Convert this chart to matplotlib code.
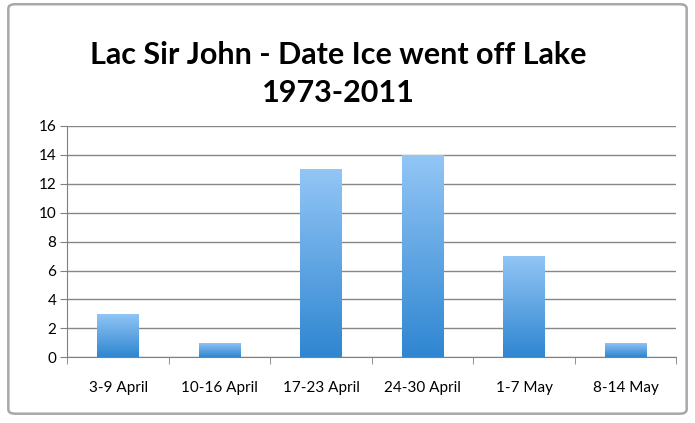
import matplotlib.pyplot as plt
import numpy as np
from matplotlib.colors import LinearSegmentedColormap
from matplotlib.patches import FancyBboxPatch

# data
categories = ['3-9 April', '10-16 April', '17-23 April', '24-30 April', '1-7 May', '8-14 May']
counts = [3, 1, 13, 14, 7, 1]
title = 'Lac Sir John - Date Ice went off Lake\n1973-2011'

plt.rcParams['font.family'] = ['Lato', 'DejaVu Sans']

fig = plt.figure(figsize=(6.95, 4.23), dpi=100)

# outer frame of the chart
frame = FancyBboxPatch((0.012, 0.022), 0.976, 0.968, boxstyle='round,pad=0,rounding_size=0.01',
                       transform=fig.transFigure, facecolor='none', edgecolor='#a8a8a8',
                       linewidth=1.8, zorder=0)
fig.patches.append(frame)

ax = fig.add_axes([0.097, 0.155, 0.876, 0.548])
ax.set_zorder(2)
ax.patch.set_alpha(0)

x = np.arange(len(categories))
bars = ax.bar(x, counts, width=0.41, color='none', edgecolor='none', zorder=3)

# gradient fill for each bar (light on top, darker at the bottom)
cmap = LinearSegmentedColormap.from_list('excel_blue', ['#2f86d1', '#93c6f6'])
grad = np.linspace(0, 1, 256).reshape(-1, 1)
for b in bars:
    x0, y0 = b.get_x(), b.get_y()
    w, h = b.get_width(), b.get_height()
    im = ax.imshow(grad, cmap=cmap, origin='lower', aspect='auto',
                   extent=[x0, x0 + w, y0, y0 + h], zorder=3)
    im.set_clip_path(b)

ax.set_xlim(-0.5, len(categories) - 0.5)
ax.set_ylim(0, 16)
ax.set_yticks(range(0, 17, 2))
ax.set_xticks(np.arange(-0.5, len(categories), 1), minor=True)
ax.set_xticks(x)
ax.set_xticklabels(categories, fontsize=11)
ax.tick_params(axis='x', which='major', length=0, pad=17)
ax.tick_params(axis='x', which='minor', length=5, direction='out', color='#808080')
ax.tick_params(axis='y', length=5, direction='out', color='#808080', labelsize=11, pad=3)

ax.yaxis.grid(True, color='#868686', linewidth=1.0)
ax.set_axisbelow(True)
for s in ['top', 'right']:
    ax.spines[s].set_visible(False)
ax.spines['left'].set_color('#808080')
ax.spines['bottom'].set_color('#808080')

fig.text(0.487, 0.825, title, ha='center', va='center', fontsize=22,
         fontweight='bold', linespacing=1.4)

fig.savefig('out.png', dpi=100)
